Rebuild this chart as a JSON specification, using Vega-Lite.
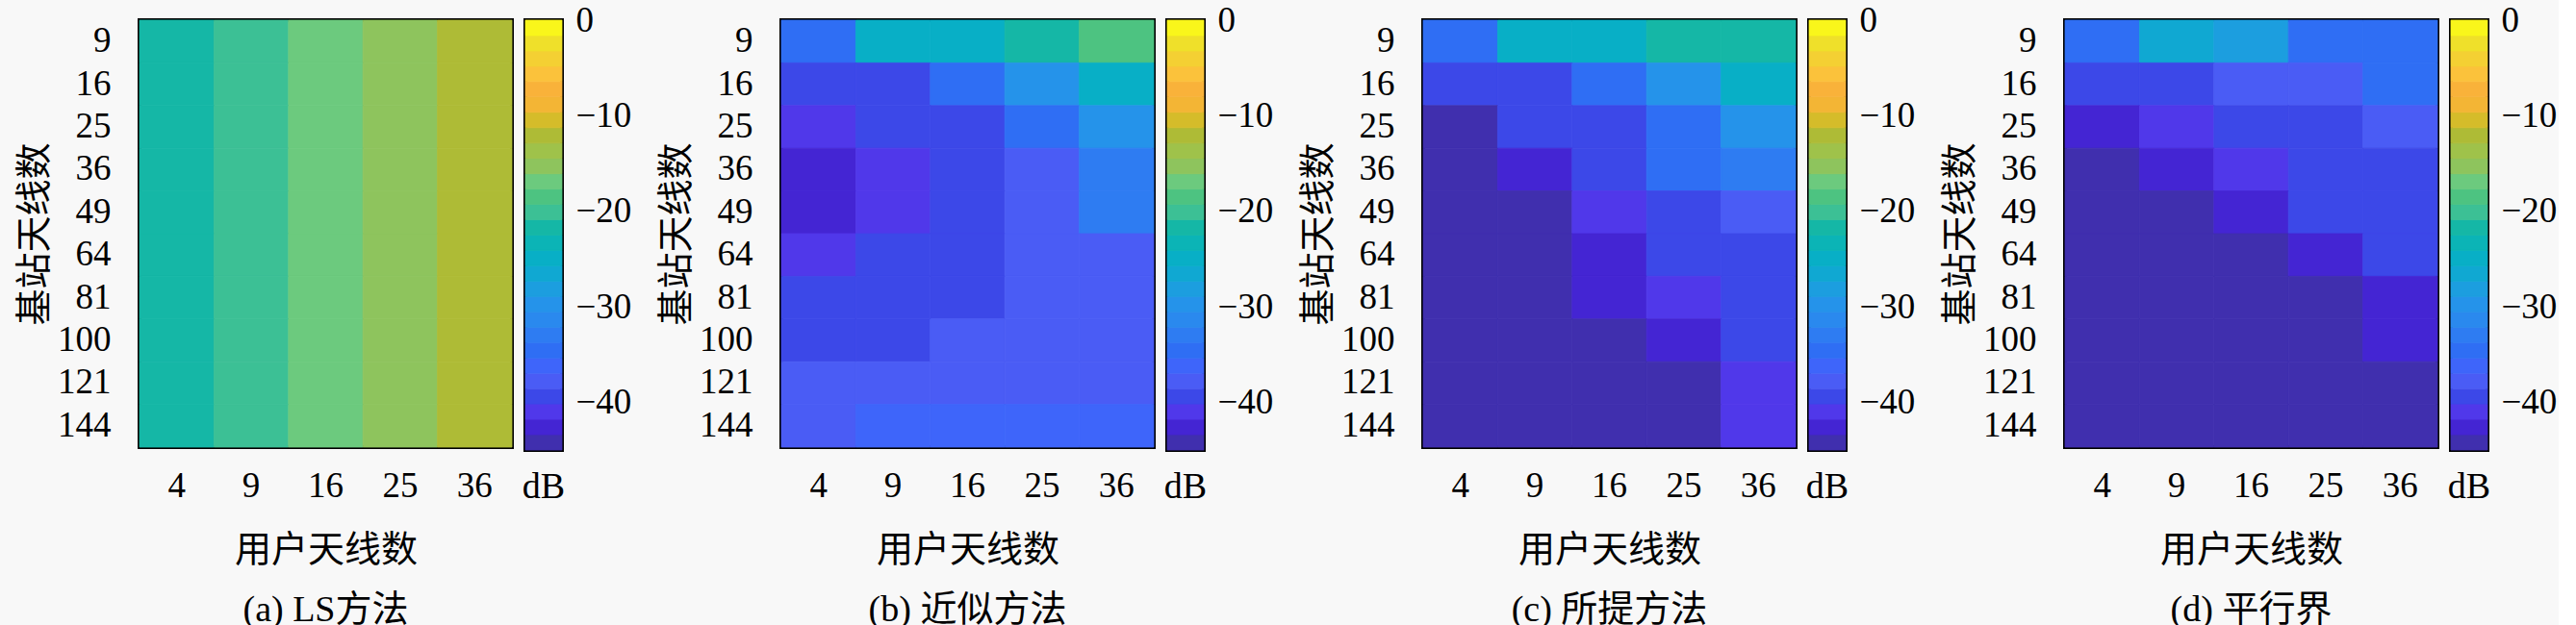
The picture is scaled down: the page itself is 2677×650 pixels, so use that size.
{
  "$schema": "https://vega.github.io/schema/vega-lite/v6.json",
  "background": "#f8f8f8",
  "padding": {"left": 15, "top": 0, "right": 0, "bottom": 0},
  "datasets": {
    "err": [
      {"m":"a","ue":4,"bs":9,"db":-21.7},{"m":"a","ue":9,"bs":9,"db":-20.1},{"m":"a","ue":16,"bs":9,"db":-16.9},{"m":"a","ue":25,"bs":9,"db":-15.3},{"m":"a","ue":36,"bs":9,"db":-12.1},
      {"m":"a","ue":4,"bs":16,"db":-21.7},{"m":"a","ue":9,"bs":16,"db":-20.1},{"m":"a","ue":16,"bs":16,"db":-16.9},{"m":"a","ue":25,"bs":16,"db":-15.3},{"m":"a","ue":36,"bs":16,"db":-12.1},
      {"m":"a","ue":4,"bs":25,"db":-21.7},{"m":"a","ue":9,"bs":25,"db":-20.1},{"m":"a","ue":16,"bs":25,"db":-16.9},{"m":"a","ue":25,"bs":25,"db":-15.3},{"m":"a","ue":36,"bs":25,"db":-12.1},
      {"m":"a","ue":4,"bs":36,"db":-21.7},{"m":"a","ue":9,"bs":36,"db":-20.1},{"m":"a","ue":16,"bs":36,"db":-16.9},{"m":"a","ue":25,"bs":36,"db":-15.3},{"m":"a","ue":36,"bs":36,"db":-12.1},
      {"m":"a","ue":4,"bs":49,"db":-21.7},{"m":"a","ue":9,"bs":49,"db":-20.1},{"m":"a","ue":16,"bs":49,"db":-16.9},{"m":"a","ue":25,"bs":49,"db":-15.3},{"m":"a","ue":36,"bs":49,"db":-12.1},
      {"m":"a","ue":4,"bs":64,"db":-21.7},{"m":"a","ue":9,"bs":64,"db":-20.1},{"m":"a","ue":16,"bs":64,"db":-16.9},{"m":"a","ue":25,"bs":64,"db":-15.3},{"m":"a","ue":36,"bs":64,"db":-12.1},
      {"m":"a","ue":4,"bs":81,"db":-21.7},{"m":"a","ue":9,"bs":81,"db":-20.1},{"m":"a","ue":16,"bs":81,"db":-16.9},{"m":"a","ue":25,"bs":81,"db":-15.3},{"m":"a","ue":36,"bs":81,"db":-12.1},
      {"m":"a","ue":4,"bs":100,"db":-21.7},{"m":"a","ue":9,"bs":100,"db":-20.1},{"m":"a","ue":16,"bs":100,"db":-16.9},{"m":"a","ue":25,"bs":100,"db":-15.3},{"m":"a","ue":36,"bs":100,"db":-12.1},
      {"m":"a","ue":4,"bs":121,"db":-21.7},{"m":"a","ue":9,"bs":121,"db":-20.1},{"m":"a","ue":16,"bs":121,"db":-16.9},{"m":"a","ue":25,"bs":121,"db":-15.3},{"m":"a","ue":36,"bs":121,"db":-12.1},
      {"m":"a","ue":4,"bs":144,"db":-21.7},{"m":"a","ue":9,"bs":144,"db":-20.1},{"m":"a","ue":16,"bs":144,"db":-16.9},{"m":"a","ue":25,"bs":144,"db":-15.3},{"m":"a","ue":36,"bs":144,"db":-12.1},

      {"m":"b","ue":4,"bs":9,"db":-34.6},{"m":"b","ue":9,"bs":9,"db":-24.9},{"m":"b","ue":16,"bs":9,"db":-24.9},{"m":"b","ue":25,"bs":9,"db":-21.7},{"m":"b","ue":36,"bs":9,"db":-18.5},
      {"m":"b","ue":4,"bs":16,"db":-39.4},{"m":"b","ue":9,"bs":16,"db":-39.4},{"m":"b","ue":16,"bs":16,"db":-34.6},{"m":"b","ue":25,"bs":16,"db":-29.7},{"m":"b","ue":36,"bs":16,"db":-24.9},
      {"m":"b","ue":4,"bs":25,"db":-41.0},{"m":"b","ue":9,"bs":25,"db":-39.4},{"m":"b","ue":16,"bs":25,"db":-39.4},{"m":"b","ue":25,"bs":25,"db":-34.6},{"m":"b","ue":36,"bs":25,"db":-29.7},
      {"m":"b","ue":4,"bs":36,"db":-42.6},{"m":"b","ue":9,"bs":36,"db":-41.0},{"m":"b","ue":16,"bs":36,"db":-39.4},{"m":"b","ue":25,"bs":36,"db":-37.8},{"m":"b","ue":36,"bs":36,"db":-32.9},
      {"m":"b","ue":4,"bs":49,"db":-42.6},{"m":"b","ue":9,"bs":49,"db":-41.0},{"m":"b","ue":16,"bs":49,"db":-39.4},{"m":"b","ue":25,"bs":49,"db":-37.8},{"m":"b","ue":36,"bs":49,"db":-32.9},
      {"m":"b","ue":4,"bs":64,"db":-41.0},{"m":"b","ue":9,"bs":64,"db":-39.4},{"m":"b","ue":16,"bs":64,"db":-39.4},{"m":"b","ue":25,"bs":64,"db":-37.8},{"m":"b","ue":36,"bs":64,"db":-37.8},
      {"m":"b","ue":4,"bs":81,"db":-39.4},{"m":"b","ue":9,"bs":81,"db":-39.4},{"m":"b","ue":16,"bs":81,"db":-39.4},{"m":"b","ue":25,"bs":81,"db":-37.8},{"m":"b","ue":36,"bs":81,"db":-37.8},
      {"m":"b","ue":4,"bs":100,"db":-39.4},{"m":"b","ue":9,"bs":100,"db":-39.4},{"m":"b","ue":16,"bs":100,"db":-37.8},{"m":"b","ue":25,"bs":100,"db":-37.8},{"m":"b","ue":36,"bs":100,"db":-37.8},
      {"m":"b","ue":4,"bs":121,"db":-37.8},{"m":"b","ue":9,"bs":121,"db":-37.8},{"m":"b","ue":16,"bs":121,"db":-37.8},{"m":"b","ue":25,"bs":121,"db":-37.8},{"m":"b","ue":36,"bs":121,"db":-37.8},
      {"m":"b","ue":4,"bs":144,"db":-37.8},{"m":"b","ue":9,"bs":144,"db":-36.2},{"m":"b","ue":16,"bs":144,"db":-36.2},{"m":"b","ue":25,"bs":144,"db":-36.2},{"m":"b","ue":36,"bs":144,"db":-36.2},

      {"m":"c","ue":4,"bs":9,"db":-34.6},{"m":"c","ue":9,"bs":9,"db":-24.9},{"m":"c","ue":16,"bs":9,"db":-24.9},{"m":"c","ue":25,"bs":9,"db":-21.7},{"m":"c","ue":36,"bs":9,"db":-21.7},
      {"m":"c","ue":4,"bs":16,"db":-39.4},{"m":"c","ue":9,"bs":16,"db":-39.4},{"m":"c","ue":16,"bs":16,"db":-34.6},{"m":"c","ue":25,"bs":16,"db":-29.7},{"m":"c","ue":36,"bs":16,"db":-24.9},
      {"m":"c","ue":4,"bs":25,"db":-44.2},{"m":"c","ue":9,"bs":25,"db":-39.4},{"m":"c","ue":16,"bs":25,"db":-39.4},{"m":"c","ue":25,"bs":25,"db":-34.6},{"m":"c","ue":36,"bs":25,"db":-29.7},
      {"m":"c","ue":4,"bs":36,"db":-44.2},{"m":"c","ue":9,"bs":36,"db":-42.6},{"m":"c","ue":16,"bs":36,"db":-39.4},{"m":"c","ue":25,"bs":36,"db":-34.6},{"m":"c","ue":36,"bs":36,"db":-32.9},
      {"m":"c","ue":4,"bs":49,"db":-44.2},{"m":"c","ue":9,"bs":49,"db":-44.2},{"m":"c","ue":16,"bs":49,"db":-41.0},{"m":"c","ue":25,"bs":49,"db":-39.4},{"m":"c","ue":36,"bs":49,"db":-37.8},
      {"m":"c","ue":4,"bs":64,"db":-44.2},{"m":"c","ue":9,"bs":64,"db":-44.2},{"m":"c","ue":16,"bs":64,"db":-42.6},{"m":"c","ue":25,"bs":64,"db":-39.4},{"m":"c","ue":36,"bs":64,"db":-39.4},
      {"m":"c","ue":4,"bs":81,"db":-44.2},{"m":"c","ue":9,"bs":81,"db":-44.2},{"m":"c","ue":16,"bs":81,"db":-42.6},{"m":"c","ue":25,"bs":81,"db":-41.0},{"m":"c","ue":36,"bs":81,"db":-39.4},
      {"m":"c","ue":4,"bs":100,"db":-44.2},{"m":"c","ue":9,"bs":100,"db":-44.2},{"m":"c","ue":16,"bs":100,"db":-44.2},{"m":"c","ue":25,"bs":100,"db":-42.6},{"m":"c","ue":36,"bs":100,"db":-39.4},
      {"m":"c","ue":4,"bs":121,"db":-44.2},{"m":"c","ue":9,"bs":121,"db":-44.2},{"m":"c","ue":16,"bs":121,"db":-44.2},{"m":"c","ue":25,"bs":121,"db":-44.2},{"m":"c","ue":36,"bs":121,"db":-41.0},
      {"m":"c","ue":4,"bs":144,"db":-44.2},{"m":"c","ue":9,"bs":144,"db":-44.2},{"m":"c","ue":16,"bs":144,"db":-44.2},{"m":"c","ue":25,"bs":144,"db":-44.2},{"m":"c","ue":36,"bs":144,"db":-41.0},

      {"m":"d","ue":4,"bs":9,"db":-34.6},{"m":"d","ue":9,"bs":9,"db":-26.5},{"m":"d","ue":16,"bs":9,"db":-28.1},{"m":"d","ue":25,"bs":9,"db":-34.6},{"m":"d","ue":36,"bs":9,"db":-34.6},
      {"m":"d","ue":4,"bs":16,"db":-39.4},{"m":"d","ue":9,"bs":16,"db":-39.4},{"m":"d","ue":16,"bs":16,"db":-37.8},{"m":"d","ue":25,"bs":16,"db":-37.8},{"m":"d","ue":36,"bs":16,"db":-34.6},
      {"m":"d","ue":4,"bs":25,"db":-42.6},{"m":"d","ue":9,"bs":25,"db":-41.0},{"m":"d","ue":16,"bs":25,"db":-39.4},{"m":"d","ue":25,"bs":25,"db":-39.4},{"m":"d","ue":36,"bs":25,"db":-37.8},
      {"m":"d","ue":4,"bs":36,"db":-44.2},{"m":"d","ue":9,"bs":36,"db":-42.6},{"m":"d","ue":16,"bs":36,"db":-41.0},{"m":"d","ue":25,"bs":36,"db":-39.4},{"m":"d","ue":36,"bs":36,"db":-39.4},
      {"m":"d","ue":4,"bs":49,"db":-44.2},{"m":"d","ue":9,"bs":49,"db":-44.2},{"m":"d","ue":16,"bs":49,"db":-42.6},{"m":"d","ue":25,"bs":49,"db":-39.4},{"m":"d","ue":36,"bs":49,"db":-39.4},
      {"m":"d","ue":4,"bs":64,"db":-44.2},{"m":"d","ue":9,"bs":64,"db":-44.2},{"m":"d","ue":16,"bs":64,"db":-44.2},{"m":"d","ue":25,"bs":64,"db":-42.6},{"m":"d","ue":36,"bs":64,"db":-39.4},
      {"m":"d","ue":4,"bs":81,"db":-44.2},{"m":"d","ue":9,"bs":81,"db":-44.2},{"m":"d","ue":16,"bs":81,"db":-44.2},{"m":"d","ue":25,"bs":81,"db":-44.2},{"m":"d","ue":36,"bs":81,"db":-42.6},
      {"m":"d","ue":4,"bs":100,"db":-44.2},{"m":"d","ue":9,"bs":100,"db":-44.2},{"m":"d","ue":16,"bs":100,"db":-44.2},{"m":"d","ue":25,"bs":100,"db":-44.2},{"m":"d","ue":36,"bs":100,"db":-42.6},
      {"m":"d","ue":4,"bs":121,"db":-44.2},{"m":"d","ue":9,"bs":121,"db":-44.2},{"m":"d","ue":16,"bs":121,"db":-44.2},{"m":"d","ue":25,"bs":121,"db":-44.2},{"m":"d","ue":36,"bs":121,"db":-44.2},
      {"m":"d","ue":4,"bs":144,"db":-44.2},{"m":"d","ue":9,"bs":144,"db":-44.2},{"m":"d","ue":16,"bs":144,"db":-44.2},{"m":"d","ue":25,"bs":144,"db":-44.2},{"m":"d","ue":36,"bs":144,"db":-44.2}
    ],
    "bar": [
      {"lo":-45.00,"hi":-43.39,"mid":-44.2},
      {"lo":-43.39,"hi":-41.79,"mid":-42.6},
      {"lo":-41.79,"hi":-40.18,"mid":-41.0},
      {"lo":-40.18,"hi":-38.57,"mid":-39.4},
      {"lo":-38.57,"hi":-36.96,"mid":-37.8},
      {"lo":-36.96,"hi":-35.36,"mid":-36.2},
      {"lo":-35.36,"hi":-33.75,"mid":-34.6},
      {"lo":-33.75,"hi":-32.14,"mid":-32.9},
      {"lo":-32.14,"hi":-30.54,"mid":-31.3},
      {"lo":-30.54,"hi":-28.93,"mid":-29.7},
      {"lo":-28.93,"hi":-27.32,"mid":-28.1},
      {"lo":-27.32,"hi":-25.71,"mid":-26.5},
      {"lo":-25.71,"hi":-24.11,"mid":-24.9},
      {"lo":-24.11,"hi":-22.50,"mid":-23.3},
      {"lo":-22.50,"hi":-20.89,"mid":-21.7},
      {"lo":-20.89,"hi":-19.29,"mid":-20.1},
      {"lo":-19.29,"hi":-17.68,"mid":-18.5},
      {"lo":-17.68,"hi":-16.07,"mid":-16.9},
      {"lo":-16.07,"hi":-14.46,"mid":-15.3},
      {"lo":-14.46,"hi":-12.86,"mid":-13.7},
      {"lo":-12.86,"hi":-11.25,"mid":-12.1},
      {"lo":-11.25,"hi":-9.64,"mid":-10.4},
      {"lo":-9.64,"hi":-8.04,"mid":-8.8},
      {"lo":-8.04,"hi":-6.43,"mid":-7.2},
      {"lo":-6.43,"hi":-4.82,"mid":-5.6},
      {"lo":-4.82,"hi":-3.21,"mid":-4.0},
      {"lo":-3.21,"hi":-1.61,"mid":-2.4},
      {"lo":-1.61,"hi":0.00,"mid":-0.8}
    ]
  },
  "spacing": 24,
  "hconcat": [
    {
      "bounds": "flush",
      "spacing": 14,
      "hconcat": [
        {
          "width": 387, "height": 444,
          "data": {"name": "err"},
          "transform": [{"filter": "datum.m == 'a'"}],
          "title": {"text": "(a) LS方法", "orient": "bottom", "frame": "group", "anchor": "middle", "offset": 25},
          "mark": {"type": "rect", "strokeWidth": 0.8},
          "encoding": {
            "x": {"field": "ue", "type": "ordinal", "axis": {"title": "用户天线数", "labelAngle": 0, "labelPadding": 22, "titlePadding": 30}},
            "y": {"field": "bs", "type": "ordinal", "axis": {"title": "基站天线数", "labelPadding": 30, "titlePadding": 4}},
            "fill": {"field": "db", "type": "quantitative", "scale": {"type": "quantize", "domain": [-45, 0], "nice": false, "zero": false, "range": ["#402fae","#4425d3","#5038ea","#3c48e8","#4a5cf5","#3e65fa","#2f6ef4","#2e7cf2","#2a89ee","#2593ea","#1c9edf","#10a8d2","#08afc6","#0bb4b6","#15b7a6","#3cc095","#4dc381","#6cca7e","#8ec45d","#9fc24a","#aebb36","#d5bc2a","#f3b535","#f9b23a","#fbc23b","#f4d033","#efe02a","#f9f61b"]}, "legend": null},
            "stroke": {"field": "db", "type": "quantitative", "scale": {"type": "quantize", "domain": [-45, 0], "nice": false, "zero": false, "range": ["#402fae","#4425d3","#5038ea","#3c48e8","#4a5cf5","#3e65fa","#2f6ef4","#2e7cf2","#2a89ee","#2593ea","#1c9edf","#10a8d2","#08afc6","#0bb4b6","#15b7a6","#3cc095","#4dc381","#6cca7e","#8ec45d","#9fc24a","#aebb36","#d5bc2a","#f3b535","#f9b23a","#fbc23b","#f4d033","#efe02a","#f9f61b"]}, "legend": null}
          }
        },
        {
          "width": 38, "height": 447,
          "data": {"name": "bar"},
          "title": {"text": "dB", "orient": "bottom", "frame": "group", "anchor": "middle", "offset": 20},
          "mark": {"type": "rect", "strokeWidth": 0.8},
          "encoding": {
            "y": {"field": "lo", "type": "quantitative", "scale": {"domain": [-45, 0], "nice": false, "zero": false}, "axis": {"orient": "right", "values": [0, -10, -20, -30, -40], "title": null, "labelPadding": 14}},
            "y2": {"field": "hi"},
            "fill": {"field": "mid", "type": "quantitative", "scale": {"type": "quantize", "domain": [-45, 0], "nice": false, "zero": false, "range": ["#402fae","#4425d3","#5038ea","#3c48e8","#4a5cf5","#3e65fa","#2f6ef4","#2e7cf2","#2a89ee","#2593ea","#1c9edf","#10a8d2","#08afc6","#0bb4b6","#15b7a6","#3cc095","#4dc381","#6cca7e","#8ec45d","#9fc24a","#aebb36","#d5bc2a","#f3b535","#f9b23a","#fbc23b","#f4d033","#efe02a","#f9f61b"]}, "legend": null},
            "stroke": {"field": "mid", "type": "quantitative", "scale": {"type": "quantize", "domain": [-45, 0], "nice": false, "zero": false, "range": ["#402fae","#4425d3","#5038ea","#3c48e8","#4a5cf5","#3e65fa","#2f6ef4","#2e7cf2","#2a89ee","#2593ea","#1c9edf","#10a8d2","#08afc6","#0bb4b6","#15b7a6","#3cc095","#4dc381","#6cca7e","#8ec45d","#9fc24a","#aebb36","#d5bc2a","#f3b535","#f9b23a","#fbc23b","#f4d033","#efe02a","#f9f61b"]}, "legend": null}
          }
        }
      ]
    },
    {
      "bounds": "flush",
      "spacing": 14,
      "hconcat": [
        {
          "width": 387, "height": 444,
          "data": {"name": "err"},
          "transform": [{"filter": "datum.m == 'b'"}],
          "title": {"text": "(b) 近似方法", "orient": "bottom", "frame": "group", "anchor": "middle", "offset": 25},
          "mark": {"type": "rect", "strokeWidth": 0.8},
          "encoding": {
            "x": {"field": "ue", "type": "ordinal", "axis": {"title": "用户天线数", "labelAngle": 0, "labelPadding": 22, "titlePadding": 30}},
            "y": {"field": "bs", "type": "ordinal", "axis": {"title": "基站天线数", "labelPadding": 30, "titlePadding": 4}},
            "fill": {"field": "db", "type": "quantitative", "scale": {"type": "quantize", "domain": [-45, 0], "nice": false, "zero": false, "range": ["#402fae","#4425d3","#5038ea","#3c48e8","#4a5cf5","#3e65fa","#2f6ef4","#2e7cf2","#2a89ee","#2593ea","#1c9edf","#10a8d2","#08afc6","#0bb4b6","#15b7a6","#3cc095","#4dc381","#6cca7e","#8ec45d","#9fc24a","#aebb36","#d5bc2a","#f3b535","#f9b23a","#fbc23b","#f4d033","#efe02a","#f9f61b"]}, "legend": null},
            "stroke": {"field": "db", "type": "quantitative", "scale": {"type": "quantize", "domain": [-45, 0], "nice": false, "zero": false, "range": ["#402fae","#4425d3","#5038ea","#3c48e8","#4a5cf5","#3e65fa","#2f6ef4","#2e7cf2","#2a89ee","#2593ea","#1c9edf","#10a8d2","#08afc6","#0bb4b6","#15b7a6","#3cc095","#4dc381","#6cca7e","#8ec45d","#9fc24a","#aebb36","#d5bc2a","#f3b535","#f9b23a","#fbc23b","#f4d033","#efe02a","#f9f61b"]}, "legend": null}
          }
        },
        {
          "width": 38, "height": 447,
          "data": {"name": "bar"},
          "title": {"text": "dB", "orient": "bottom", "frame": "group", "anchor": "middle", "offset": 20},
          "mark": {"type": "rect", "strokeWidth": 0.8},
          "encoding": {
            "y": {"field": "lo", "type": "quantitative", "scale": {"domain": [-45, 0], "nice": false, "zero": false}, "axis": {"orient": "right", "values": [0, -10, -20, -30, -40], "title": null, "labelPadding": 14}},
            "y2": {"field": "hi"},
            "fill": {"field": "mid", "type": "quantitative", "scale": {"type": "quantize", "domain": [-45, 0], "nice": false, "zero": false, "range": ["#402fae","#4425d3","#5038ea","#3c48e8","#4a5cf5","#3e65fa","#2f6ef4","#2e7cf2","#2a89ee","#2593ea","#1c9edf","#10a8d2","#08afc6","#0bb4b6","#15b7a6","#3cc095","#4dc381","#6cca7e","#8ec45d","#9fc24a","#aebb36","#d5bc2a","#f3b535","#f9b23a","#fbc23b","#f4d033","#efe02a","#f9f61b"]}, "legend": null},
            "stroke": {"field": "mid", "type": "quantitative", "scale": {"type": "quantize", "domain": [-45, 0], "nice": false, "zero": false, "range": ["#402fae","#4425d3","#5038ea","#3c48e8","#4a5cf5","#3e65fa","#2f6ef4","#2e7cf2","#2a89ee","#2593ea","#1c9edf","#10a8d2","#08afc6","#0bb4b6","#15b7a6","#3cc095","#4dc381","#6cca7e","#8ec45d","#9fc24a","#aebb36","#d5bc2a","#f3b535","#f9b23a","#fbc23b","#f4d033","#efe02a","#f9f61b"]}, "legend": null}
          }
        }
      ]
    },
    {
      "bounds": "flush",
      "spacing": 14,
      "hconcat": [
        {
          "width": 387, "height": 444,
          "data": {"name": "err"},
          "transform": [{"filter": "datum.m == 'c'"}],
          "title": {"text": "(c) 所提方法", "orient": "bottom", "frame": "group", "anchor": "middle", "offset": 25},
          "mark": {"type": "rect", "strokeWidth": 0.8},
          "encoding": {
            "x": {"field": "ue", "type": "ordinal", "axis": {"title": "用户天线数", "labelAngle": 0, "labelPadding": 22, "titlePadding": 30}},
            "y": {"field": "bs", "type": "ordinal", "axis": {"title": "基站天线数", "labelPadding": 30, "titlePadding": 4}},
            "fill": {"field": "db", "type": "quantitative", "scale": {"type": "quantize", "domain": [-45, 0], "nice": false, "zero": false, "range": ["#402fae","#4425d3","#5038ea","#3c48e8","#4a5cf5","#3e65fa","#2f6ef4","#2e7cf2","#2a89ee","#2593ea","#1c9edf","#10a8d2","#08afc6","#0bb4b6","#15b7a6","#3cc095","#4dc381","#6cca7e","#8ec45d","#9fc24a","#aebb36","#d5bc2a","#f3b535","#f9b23a","#fbc23b","#f4d033","#efe02a","#f9f61b"]}, "legend": null},
            "stroke": {"field": "db", "type": "quantitative", "scale": {"type": "quantize", "domain": [-45, 0], "nice": false, "zero": false, "range": ["#402fae","#4425d3","#5038ea","#3c48e8","#4a5cf5","#3e65fa","#2f6ef4","#2e7cf2","#2a89ee","#2593ea","#1c9edf","#10a8d2","#08afc6","#0bb4b6","#15b7a6","#3cc095","#4dc381","#6cca7e","#8ec45d","#9fc24a","#aebb36","#d5bc2a","#f3b535","#f9b23a","#fbc23b","#f4d033","#efe02a","#f9f61b"]}, "legend": null}
          }
        },
        {
          "width": 38, "height": 447,
          "data": {"name": "bar"},
          "title": {"text": "dB", "orient": "bottom", "frame": "group", "anchor": "middle", "offset": 20},
          "mark": {"type": "rect", "strokeWidth": 0.8},
          "encoding": {
            "y": {"field": "lo", "type": "quantitative", "scale": {"domain": [-45, 0], "nice": false, "zero": false}, "axis": {"orient": "right", "values": [0, -10, -20, -30, -40], "title": null, "labelPadding": 14}},
            "y2": {"field": "hi"},
            "fill": {"field": "mid", "type": "quantitative", "scale": {"type": "quantize", "domain": [-45, 0], "nice": false, "zero": false, "range": ["#402fae","#4425d3","#5038ea","#3c48e8","#4a5cf5","#3e65fa","#2f6ef4","#2e7cf2","#2a89ee","#2593ea","#1c9edf","#10a8d2","#08afc6","#0bb4b6","#15b7a6","#3cc095","#4dc381","#6cca7e","#8ec45d","#9fc24a","#aebb36","#d5bc2a","#f3b535","#f9b23a","#fbc23b","#f4d033","#efe02a","#f9f61b"]}, "legend": null},
            "stroke": {"field": "mid", "type": "quantitative", "scale": {"type": "quantize", "domain": [-45, 0], "nice": false, "zero": false, "range": ["#402fae","#4425d3","#5038ea","#3c48e8","#4a5cf5","#3e65fa","#2f6ef4","#2e7cf2","#2a89ee","#2593ea","#1c9edf","#10a8d2","#08afc6","#0bb4b6","#15b7a6","#3cc095","#4dc381","#6cca7e","#8ec45d","#9fc24a","#aebb36","#d5bc2a","#f3b535","#f9b23a","#fbc23b","#f4d033","#efe02a","#f9f61b"]}, "legend": null}
          }
        }
      ]
    },
    {
      "bounds": "flush",
      "spacing": 14,
      "hconcat": [
        {
          "width": 387, "height": 444,
          "data": {"name": "err"},
          "transform": [{"filter": "datum.m == 'd'"}],
          "title": {"text": "(d) 平行界", "orient": "bottom", "frame": "group", "anchor": "middle", "offset": 25},
          "mark": {"type": "rect", "strokeWidth": 0.8},
          "encoding": {
            "x": {"field": "ue", "type": "ordinal", "axis": {"title": "用户天线数", "labelAngle": 0, "labelPadding": 22, "titlePadding": 30}},
            "y": {"field": "bs", "type": "ordinal", "axis": {"title": "基站天线数", "labelPadding": 30, "titlePadding": 4}},
            "fill": {"field": "db", "type": "quantitative", "scale": {"type": "quantize", "domain": [-45, 0], "nice": false, "zero": false, "range": ["#402fae","#4425d3","#5038ea","#3c48e8","#4a5cf5","#3e65fa","#2f6ef4","#2e7cf2","#2a89ee","#2593ea","#1c9edf","#10a8d2","#08afc6","#0bb4b6","#15b7a6","#3cc095","#4dc381","#6cca7e","#8ec45d","#9fc24a","#aebb36","#d5bc2a","#f3b535","#f9b23a","#fbc23b","#f4d033","#efe02a","#f9f61b"]}, "legend": null},
            "stroke": {"field": "db", "type": "quantitative", "scale": {"type": "quantize", "domain": [-45, 0], "nice": false, "zero": false, "range": ["#402fae","#4425d3","#5038ea","#3c48e8","#4a5cf5","#3e65fa","#2f6ef4","#2e7cf2","#2a89ee","#2593ea","#1c9edf","#10a8d2","#08afc6","#0bb4b6","#15b7a6","#3cc095","#4dc381","#6cca7e","#8ec45d","#9fc24a","#aebb36","#d5bc2a","#f3b535","#f9b23a","#fbc23b","#f4d033","#efe02a","#f9f61b"]}, "legend": null}
          }
        },
        {
          "width": 38, "height": 447,
          "data": {"name": "bar"},
          "title": {"text": "dB", "orient": "bottom", "frame": "group", "anchor": "middle", "offset": 20},
          "mark": {"type": "rect", "strokeWidth": 0.8},
          "encoding": {
            "y": {"field": "lo", "type": "quantitative", "scale": {"domain": [-45, 0], "nice": false, "zero": false}, "axis": {"orient": "right", "values": [0, -10, -20, -30, -40], "title": null, "labelPadding": 14}},
            "y2": {"field": "hi"},
            "fill": {"field": "mid", "type": "quantitative", "scale": {"type": "quantize", "domain": [-45, 0], "nice": false, "zero": false, "range": ["#402fae","#4425d3","#5038ea","#3c48e8","#4a5cf5","#3e65fa","#2f6ef4","#2e7cf2","#2a89ee","#2593ea","#1c9edf","#10a8d2","#08afc6","#0bb4b6","#15b7a6","#3cc095","#4dc381","#6cca7e","#8ec45d","#9fc24a","#aebb36","#d5bc2a","#f3b535","#f9b23a","#fbc23b","#f4d033","#efe02a","#f9f61b"]}, "legend": null},
            "stroke": {"field": "mid", "type": "quantitative", "scale": {"type": "quantize", "domain": [-45, 0], "nice": false, "zero": false, "range": ["#402fae","#4425d3","#5038ea","#3c48e8","#4a5cf5","#3e65fa","#2f6ef4","#2e7cf2","#2a89ee","#2593ea","#1c9edf","#10a8d2","#08afc6","#0bb4b6","#15b7a6","#3cc095","#4dc381","#6cca7e","#8ec45d","#9fc24a","#aebb36","#d5bc2a","#f3b535","#f9b23a","#fbc23b","#f4d033","#efe02a","#f9f61b"]}, "legend": null}
          }
        }
      ]
    }
  ],
  "config": {
    "view": {"stroke": "#000000", "strokeWidth": 4},
    "font": "Liberation Serif, Noto Sans CJK SC",
    "axis": {
      "labelFont": "Liberation Serif, Noto Sans CJK SC",
      "labelFontSize": 37,
      "labelColor": "#000000",
      "titleFont": "Liberation Serif, Noto Sans CJK SC",
      "titleFontSize": 38,
      "titleFontWeight": "normal",
      "titleColor": "#000000",
      "domain": false,
      "ticks": false,
      "grid": false
    },
    "title": {"font": "Liberation Serif, Noto Sans CJK SC", "fontSize": 38, "fontWeight": "normal", "color": "#000000"}
  }
}
